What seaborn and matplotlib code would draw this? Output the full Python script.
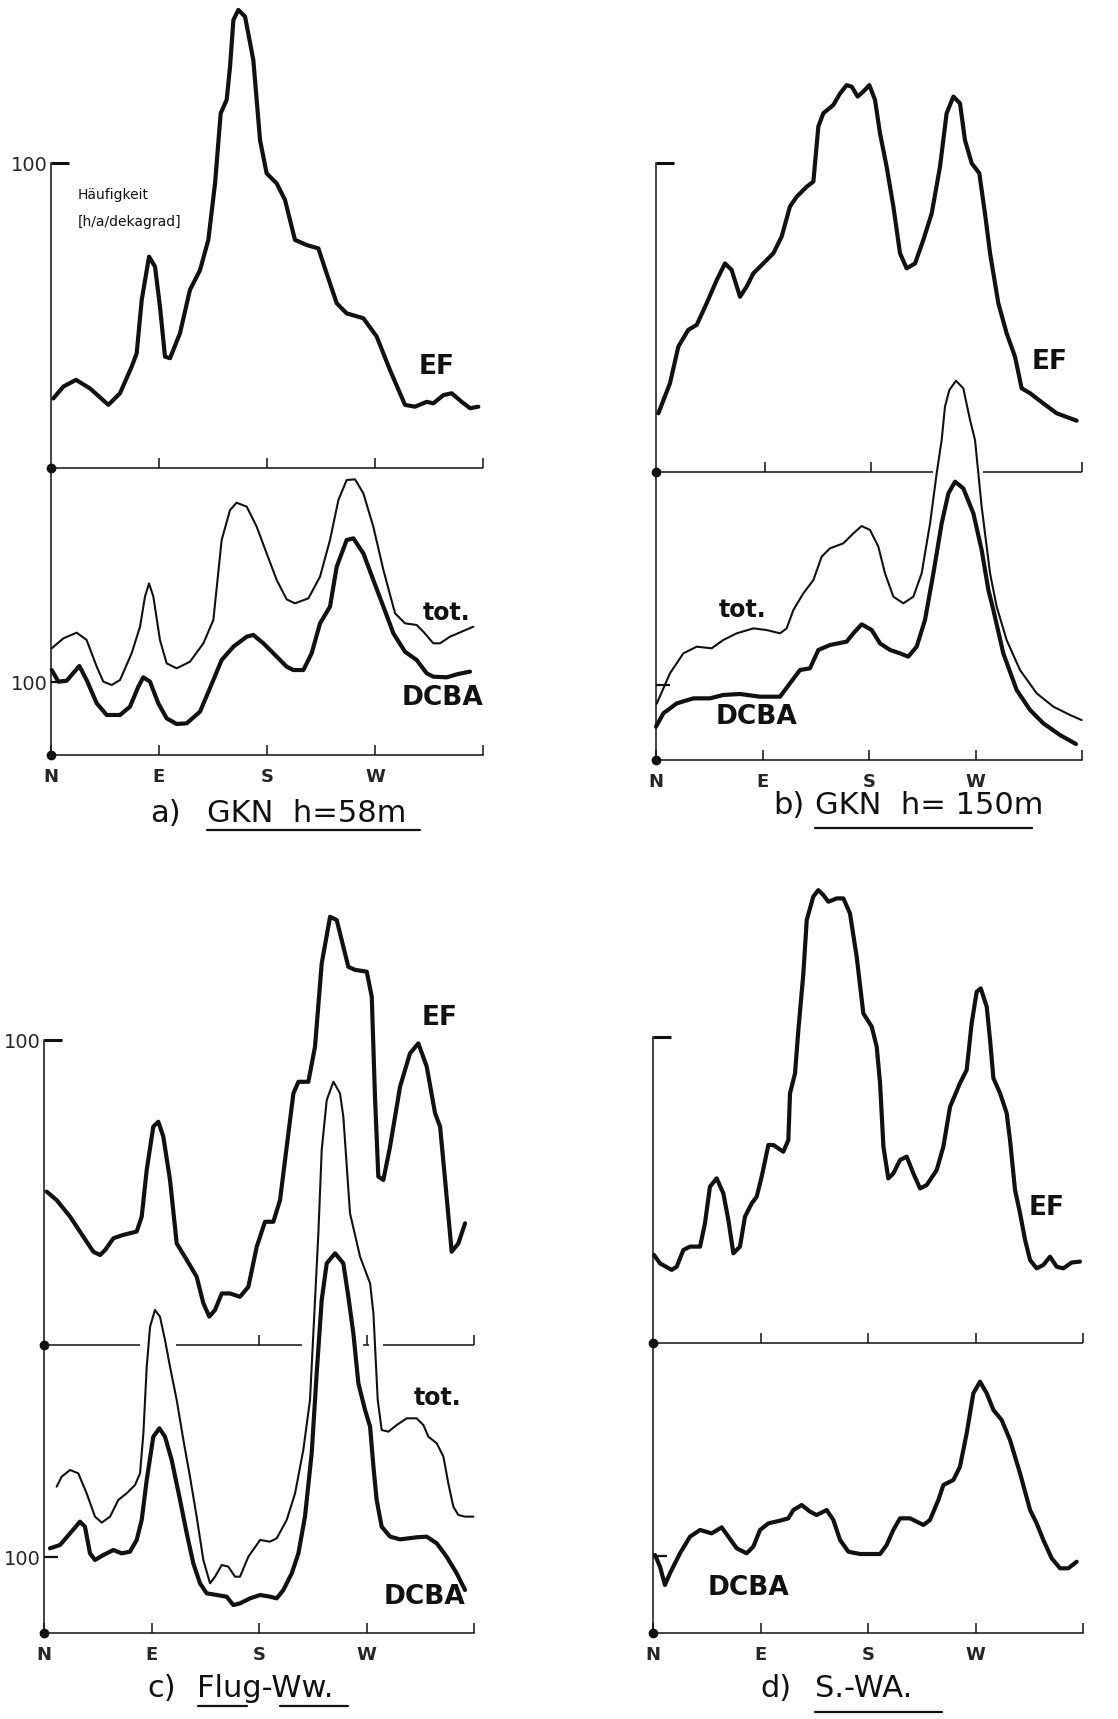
import matplotlib
matplotlib.use("Agg")
import matplotlib.pyplot as plt
from matplotlib.lines import Line2D
import seaborn as sns

# ---------------------------------------------------------------------------
# Wind-direction frequency distributions (direction in degrees: N=0, E=90,
# S=180, W=270).  Upper curves (EF) in h/a per dekagrad, lower curves
# (tot. and DCBA) on the lower scale of each panel.
# ---------------------------------------------------------------------------

# a) GKN h=58m
a_ef_deg = [1.9, 10.3, 20.8, 32.5, 47.8, 57.5, 67.2, 71.4, 75.6, 81.7, 86.7, 90.8, 95.0, 99.2,
            107.5, 115.8, 124.2, 131.1, 136.7, 141.4, 146.4, 149.2, 152.0, 156.1, 161.7, 168.6,
            174.2, 179.7, 188.1, 195.0, 203.3, 213.1, 222.8, 229.7, 238.1, 246.4, 260.3, 271.4,
            282.5, 295.0, 303.3, 313.1, 318.6, 327.0, 333.9, 342.2, 349.2, 356.1]
a_ef_val = [22.8, 26.7, 28.9, 26.1, 20.7, 24.5, 33.2, 37.6, 55.1, 69.3, 66.0, 52.9, 36.5, 36.0,
            44.2, 58.4, 64.9, 74.8, 93.3, 116.3, 120.7, 131.6, 146.9, 150.2, 148.0, 133.8,
            107.5, 96.6, 93.3, 87.9, 74.8, 73.1, 72.0, 63.8, 54.0, 50.7, 49.1, 43.1,
            32.1, 20.7, 20.1, 21.7, 21.2, 23.9, 24.5, 21.7, 19.6, 20.1]

a_tot_deg = [0.6, 10.3, 21.4, 29.7, 38.1, 43.6, 50.6, 57.5, 67.2, 74.2, 78.3, 81.7, 85.3, 90.8,
             96.4, 104.7, 115.8, 127.0, 135.3, 142.2, 149.2, 154.7, 163.1, 171.4, 179.7, 188.1,
             196.4, 203.3, 214.5, 224.2, 232.5, 239.5, 246.4, 253.4, 260.3, 268.6, 277.0, 286.7,
             295.0, 304.7, 310.3, 318.6, 324.2, 332.5, 342.2, 352.0]
a_tot_val = [146.1, 159.8, 167.6, 157.5, 121.0, 100.5, 95.9, 102.7, 139.3, 175.8, 216.9, 235.1,
             216.9, 157.5, 125.6, 118.7, 127.8, 153.0, 184.9, 294.5, 335.6, 345.6, 340.2, 312.8,
             276.2, 239.7, 213.2, 207.8, 214.6, 244.3, 294.5, 349.3, 376.7, 377.6, 358.4, 312.8,
             253.4, 194.1, 180.4, 178.1, 168.9, 153.0, 153.0, 162.1, 168.9, 175.8]

a_dcba_deg = [0.6, 6.1, 13.1, 23.6, 29.7, 38.1, 46.4, 57.5, 65.8, 72.8, 76.9, 82.5, 89.4, 96.4,
              104.7, 113.1, 124.2, 135.3, 142.2, 152.0, 163.1, 168.6, 177.0, 188.1, 196.4, 202.0,
              210.3, 217.2, 224.2, 232.5, 238.1, 246.4, 252.0, 260.3, 268.6, 277.0, 285.3, 295.0,
              304.7, 313.1, 318.6, 329.7, 339.4, 349.2]
a_dcba_val = [116.4, 100.5, 101.8, 121.9, 102.7, 70.8, 54.8, 54.8, 66.2, 93.6, 106.4, 100.5,
              70.8, 50.2, 42.5, 43.4, 59.4, 102.7, 130.1, 148.4, 162.1, 164.4, 153.0, 134.7,
              121.0, 116.4, 116.4, 139.3, 180.4, 203.2, 258.0, 294.5, 296.8, 276.2, 239.7, 203.2,
              166.7, 141.5, 130.1, 111.9, 107.3, 106.4, 111.0, 114.2]

# b) GKN h=150m
b_ef_deg = [2.0, 11.8, 18.9, 27.3, 34.4, 42.8, 51.3, 58.3, 63.9, 71.0, 76.6, 82.3, 90.7, 99.2,
            106.2, 113.2, 118.9, 127.3, 133.0, 137.2, 141.4, 149.9, 155.5, 161.1, 165.4, 170.4,
            175.2, 180.3, 185.1, 189.3, 194.9, 200.6, 206.2, 211.8, 218.9, 225.9, 233.0, 240.0,
            245.6, 251.3, 256.9, 261.1, 266.8, 273.2, 278.0, 282.3, 289.3, 296.3, 303.4, 309.0,
            316.1, 327.3, 338.6, 355.5]
b_ef_val = [19.0, 28.7, 40.6, 46.0, 47.6, 54.6, 62.1, 67.5, 65.4, 56.7, 60.0, 64.3, 67.5, 70.8,
            76.2, 85.9, 89.1, 92.3, 94.0, 111.8, 116.1, 118.8, 122.5, 125.2, 124.7, 121.5,
            123.1, 125.2, 120.4, 109.6, 98.8, 85.9, 70.8, 65.9, 67.5, 75.1, 83.7, 98.8,
            116.1, 121.5, 119.3, 107.4, 99.9, 96.7, 83.7, 70.8, 54.6, 44.9, 37.3, 27.1,
            25.5, 22.2, 19.0, 16.6]

b_tot_deg = [0.6, 11.8, 23.1, 34.4, 47.0, 56.9, 68.2, 82.3, 93.5, 104.8, 110.4, 116.1, 124.5,
             133.0, 140.0, 147.0, 158.3, 166.8, 173.8, 180.9, 187.9, 193.5, 200.6, 209.0, 217.5,
             224.5, 231.6, 237.2, 241.4, 244.2, 247.9, 253.5, 259.7, 265.4, 269.6, 272.4, 275.2,
             282.3, 287.9, 296.3, 307.6, 321.7, 335.8, 349.9, 359.7]
b_tot_val = [75.0, 115.6, 142.2, 151.1, 148.9, 160.0, 168.9, 175.5, 173.3, 168.9, 175.5, 200.0,
             222.2, 240.0, 271.1, 282.2, 288.9, 302.2, 312.0, 306.6, 284.4, 248.9, 217.8, 208.9,
             217.8, 248.9, 315.5, 382.2, 426.6, 471.1, 493.3, 505.7, 495.5, 453.3, 426.6, 382.2,
             337.7, 248.9, 204.4, 160.0, 120.0, 88.9, 71.1, 60.0, 53.3]

b_dcba_deg = [0.0, 6.2, 17.5, 31.6, 45.6, 56.9, 71.0, 87.9, 104.8, 113.2, 121.7, 130.1, 137.2,
              147.0, 161.1, 166.8, 173.8, 182.3, 189.3, 197.8, 206.2, 213.2, 220.3, 227.3, 234.4,
              241.4, 247.1, 252.7, 259.7, 268.2, 275.2, 280.9, 285.1, 293.5, 304.8, 316.1, 327.3,
              341.4, 354.9]
b_dcba_val = [44.4, 62.2, 75.5, 82.2, 82.2, 86.7, 88.0, 84.4, 84.4, 102.2, 120.0, 122.2, 146.7,
              153.3, 157.8, 168.9, 180.9, 173.3, 155.5, 146.7, 142.2, 137.8, 151.1, 186.6, 248.9,
              315.5, 355.5, 371.1, 362.2, 328.9, 280.0, 226.6, 200.0, 142.2, 93.3, 66.7, 48.9,
              33.3, 21.3]

# c) Flug-Ww.
c_ef_deg = [2.2, 10.6, 21.8, 32.9, 41.3, 46.9, 51.1, 58.1, 66.4, 77.6, 81.8, 86.0, 91.5, 95.7,
            99.9, 105.5, 111.1, 119.5, 127.8, 133.4, 138.4, 143.2, 148.8, 155.7, 164.1, 171.1,
            178.1, 185.0, 192.0, 197.6, 203.2, 208.8, 213.0, 221.3, 226.9, 232.5, 239.5, 245.1,
            250.6, 254.8, 260.4, 270.2, 274.4, 277.1, 279.9, 284.1, 289.7, 298.1, 306.4, 313.4,
            320.4, 327.4, 331.6, 335.8, 341.3, 346.9, 352.5]
c_ef_val = [50.3, 47.5, 42.1, 35.5, 30.6, 29.5, 31.1, 35.0, 36.1, 37.2, 42.1, 57.4, 71.6, 73.2,
            68.3, 54.1, 33.3, 27.9, 22.4, 13.7, 9.3, 11.5, 16.9, 16.9, 15.8, 19.1,
            32.2, 40.4, 40.4, 47.5, 65.0, 82.5, 86.3, 86.3, 97.8, 125.1, 140.4, 139.3,
            130.6, 124.0, 123.0, 122.4, 114.2, 81.4, 55.2, 54.1, 65.0, 84.7, 95.6, 98.9,
            91.3, 76.0, 71.6, 54.1, 30.6, 33.3, 39.9]

c_tot_deg = [10.6, 14.8, 21.8, 28.7, 35.7, 42.7, 48.3, 55.3, 62.2, 69.2, 76.2, 80.4, 83.2, 86.0,
             88.8, 92.9, 97.1, 101.3, 105.5, 111.1, 116.7, 122.2, 127.8, 133.4, 139.0, 143.2,
             148.8, 154.3, 159.9, 164.1, 171.1, 180.9, 189.2, 194.8, 203.2, 210.2, 217.1, 222.7,
             226.9, 229.7, 232.5, 236.7, 242.3, 247.8, 250.6, 256.2, 264.6, 273.0, 275.8, 277.7,
             279.4, 282.7, 288.3, 295.3, 303.7, 312.0, 317.6, 321.8, 328.8, 334.4, 338.5, 342.7,
             346.9, 352.5, 359.5]
c_tot_val = [192.5, 205.7, 214.5, 210.1, 183.8, 153.1, 145.2, 153.1, 175.0, 183.8, 194.7, 210.1,
             262.7, 350.4, 403.1, 425.0, 416.2, 385.5, 350.4, 306.6, 253.9, 205.7, 153.1, 96.1,
             65.4, 74.1, 89.5, 87.3, 74.1, 74.1, 100.4, 122.4, 120.2, 124.6, 148.7, 183.8,
             240.8, 306.6, 438.2, 525.9, 635.5, 701.3, 725.4, 710.1, 679.4, 552.2, 495.2, 460.1,
             420.6, 360.1, 306.6, 267.1, 264.9, 273.7, 282.5, 282.5, 273.7, 258.3, 249.6, 232.0,
             196.9, 166.2, 155.3, 153.1, 153.1]

c_dcba_deg = [5.0, 13.4, 21.8, 30.1, 34.3, 38.5, 42.7, 49.7, 58.1, 65.0, 72.0, 77.6, 81.8, 86.0,
              91.5, 96.6, 101.3, 106.9, 113.9, 119.5, 125.0, 130.6, 136.2, 144.6, 152.9, 158.5,
              164.1, 172.5, 180.9, 189.2, 194.8, 200.4, 207.4, 213.0, 218.5, 224.1, 228.3, 232.5,
              236.7, 243.7, 250.6, 254.8, 259.0, 263.2, 268.8, 273.0, 275.8, 278.5, 282.7, 289.7,
              298.1, 312.0, 320.4, 328.8, 337.1, 345.5, 352.5]
c_dcba_val = [111.4, 115.8, 131.1, 146.5, 139.9, 104.8, 96.1, 102.6, 109.2, 104.8, 107.0, 122.4,
              148.7, 201.3, 258.3, 269.3, 258.3, 227.6, 175.0, 131.1, 91.7, 65.4, 52.2, 50.0,
              47.8, 36.8, 39.0, 45.6, 50.0, 47.8, 45.6, 56.6, 78.5, 104.8, 153.1, 236.4, 341.7,
              438.2, 486.4, 499.6, 486.4, 442.5, 394.3, 328.5, 293.4, 271.5, 218.9, 175.0, 139.9,
              126.8, 123.2, 125.9, 126.8, 118.0, 100.4, 78.5, 56.6]

# d) S.-WA.
d_ef_deg = [0.8, 5.9, 15.6, 19.8, 25.4, 31.0, 39.4, 43.5, 47.7, 53.3, 58.9, 63.1, 67.3, 72.8,
            77.0, 82.6, 86.8, 91.0, 96.6, 100.8, 109.1, 113.3, 114.7, 118.9, 121.7, 125.9, 128.7,
            134.2, 138.4, 142.6, 146.8, 153.8, 159.4, 164.9, 170.5, 176.1, 183.1, 187.3, 190.1,
            192.9, 197.0, 201.2, 206.8, 212.4, 218.0, 223.6, 229.1, 237.5, 243.1, 248.7, 257.0,
            262.6, 266.8, 271.0, 274.4, 279.4, 282.2, 285.0, 290.6, 296.1, 298.9, 303.1, 307.3,
            311.5, 315.7, 321.2, 326.8, 332.4, 338.0, 343.6, 350.5, 357.5]
d_ef_val = [28.8, 26.0, 23.9, 24.9, 30.4, 31.5, 31.5, 39.1, 51.1, 53.8, 48.9, 40.2, 29.3, 31.5,
            41.3, 45.6, 47.8, 54.4, 64.7, 64.7, 62.5, 66.3, 81.6, 88.1, 102.3, 120.8, 138.2,
            145.9, 148.0, 146.4, 144.2, 145.3, 145.3, 140.4, 126.3, 107.7, 103.4, 96.8, 84.9,
            64.2, 53.8, 55.4, 59.8, 60.9, 55.4, 50.5, 51.6, 56.5, 64.2, 77.2, 84.9,
            89.2, 104.5, 114.8, 115.9, 109.9, 99.0, 86.5, 81.6, 75.1, 66.3, 50.0, 42.4,
            33.7, 27.1, 24.4, 25.5, 28.2, 24.9, 24.4, 26.3, 26.6]

d_dcba_deg = [1.7, 5.9, 10.0, 14.2, 22.6, 31.0, 39.4, 49.1, 57.5, 63.1, 70.1, 78.4, 84.0, 89.6,
              96.6, 106.3, 113.3, 117.5, 124.5, 131.5, 137.0, 145.4, 151.0, 156.6, 163.6, 173.3,
              190.1, 195.6, 201.2, 206.8, 215.2, 226.4, 231.9, 238.9, 243.1, 251.5, 257.0, 262.6,
              268.2, 273.8, 279.4, 285.0, 291.9, 298.9, 307.3, 315.7, 321.2, 326.8, 333.8, 340.8,
              347.7, 354.7]
d_dcba_val = [101.3, 86.1, 62.3, 77.5, 103.5, 125.1, 133.8, 129.4, 137.2, 125.1, 110.0, 103.5,
              112.1, 133.8, 142.4, 145.9, 148.9, 159.7, 166.2, 157.6, 153.2, 159.7, 146.8, 120.8,
              105.6, 102.6, 102.6, 114.3, 133.8, 148.9, 148.9, 140.3, 146.8, 172.7, 192.2, 198.7,
              216.0, 259.3, 311.3, 326.4, 311.3, 289.6, 276.6, 250.6, 207.4, 159.7, 142.4, 120.8,
              97.0, 84.0, 84.0, 92.6]

compass_ticks = [0, 90, 180, 270, 360]
compass_labels = ["N", "E", "S", "W", ""]

# ---------------------------------------------------------------------------
# Page layout (pixel positions on the 1118 x 1719 sheet)
# ---------------------------------------------------------------------------
W, H = 1118, 1719
INK = "#111111"

sns.set_style("white")
plt.rcParams["font.family"] = ["DejaVu Sans"]

fig = plt.figure(figsize=(W / 100, H / 100), dpi=100)
fig.patch.set_facecolor("white")


def fx(px):
    return px / W


def fy(py):
    return 1 - py / H


panels = [
    dict(x0=51, x1=483, top=163, mid=468, bot=755, low=682,
         upper=[(a_ef_deg, a_ef_val)], lower=[(a_tot_deg, a_tot_val, "thin"),
                                              (a_dcba_deg, a_dcba_val, "thick")],
         mid_segments=[(0, 360)], mid_ticks=[90, 180, 270, 360], hundred=True),
    dict(x0=656, x1=1082, top=163, mid=472, bot=760, low=685,
         upper=[(b_ef_deg, b_ef_val)], lower=[(b_tot_deg, b_tot_val, "thin"),
                                              (b_dcba_deg, b_dcba_val, "thick")],
         mid_segments=[(0, 234.4), (276.6, 360)], mid_ticks=[92, 182, 360], hundred=False),
    dict(x0=44, x1=474, top=1040, mid=1345, bot=1633, low=1557,
         upper=[(c_ef_deg, c_ef_val)], lower=[(c_tot_deg, c_tot_val, "thin"),
                                              (c_dcba_deg, c_dcba_val, "thick")],
         mid_segments=[(0, 80.4), (110.2, 215.7), (267.4, 272.4), (284.1, 360)],
         mid_ticks=[180, 270, 360], hundred=True),
    dict(x0=653, x1=1083, top=1037, mid=1343, bot=1633, low=1556,
         upper=[(d_ef_deg, d_ef_val)], lower=[(d_dcba_deg, d_dcba_val, "thick")],
         mid_segments=[(0, 360)], mid_ticks=[90, 180, 270, 360], hundred=False),
]

LW = {"thick": 3.0, "thin": 1.5}


def trace(ax, deg, val, width):
    sns.lineplot(x=deg, y=val, ax=ax, color=INK, linewidth=LW[width],
                 sort=False, estimator=None, legend=False)
    ln = ax.lines[-1]
    ln.set_clip_on(False)
    ln.set_solid_joinstyle("round")
    ln.set_solid_capstyle("round")


for p in panels:
    w = (p["x1"] - p["x0"]) / W
    ax_t = fig.add_axes([fx(p["x0"]), fy(p["mid"]), w, (p["mid"] - p["top"]) / H])
    ax_b = fig.add_axes([fx(p["x0"]), fy(p["bot"]), w, (p["bot"] - p["mid"]) / H])
    lower_top = (p["bot"] - p["mid"]) * 100 / (p["bot"] - p["low"])

    for ax in (ax_t, ax_b):
        ax.set_facecolor("none")
        ax.set_xlim(0, 360)
        for s in ("top", "right"):
            ax.spines[s].set_visible(False)
        ax.spines["left"].set_color(INK)
        ax.spines["left"].set_linewidth(1.1)

    # upper section: EF
    ax_t.set_ylim(0, 100)
    ax_t.spines["bottom"].set_visible(False)
    ax_t.hlines([0] * len(p["mid_segments"]), [s[0] for s in p["mid_segments"]],
                [s[1] for s in p["mid_segments"]], color=INK, lw=1.1, clip_on=False)
    ax_t.set_xticks(p["mid_ticks"])
    ax_t.set_xticklabels([])
    ax_t.tick_params(axis="x", direction="in", length=7, width=1.1, color=INK, bottom=True)
    ax_t.set_yticks([100])
    ax_t.set_yticklabels(["100" if p["hundred"] else ""])
    ax_t.tick_params(axis="y", direction="in", length=13, width=2.2, color=INK, left=True,
                     labelsize=14, pad=2)
    ax_t.plot([0], [0], "o", color=INK, ms=6, clip_on=False)
    for deg, val in p["upper"]:
        trace(ax_t, deg, val, "thick")

    # lower section: tot. and DCBA
    ax_b.set_ylim(0, lower_top)
    ax_b.spines["bottom"].set_color(INK)
    ax_b.spines["bottom"].set_linewidth(1.1)
    ax_b.set_xticks(compass_ticks)
    ax_b.set_xticklabels(compass_labels, fontsize=13, fontweight="bold")
    ax_b.tick_params(axis="x", direction="in", length=7, width=1.1, color=INK, bottom=True,
                     pad=9)
    ax_b.set_yticks([100])
    ax_b.set_yticklabels(["100" if p["hundred"] else ""])
    ax_b.tick_params(axis="y", direction="in", length=10, width=1.6, color=INK, left=True,
                     labelsize=14, pad=2)
    ax_b.plot([0], [0], "o", color=INK, ms=6, clip_on=False)
    for deg, val, width in p["lower"]:
        trace(ax_b, deg, val, width)


def label(x, y, s, size=19, weight="bold", ha="center"):
    fig.text(fx(x), fy(y), s, fontsize=size, fontweight=weight, ha=ha, va="center",
             color=INK)


def underline(xa, xb, y):
    fig.add_artist(Line2D([fx(xa), fx(xb)], [fy(y), fy(y)], color=INK, lw=1.6))


# axis caption
label(78, 195, "Häufigkeit", size=10, weight="normal", ha="left")
label(78, 222, "[h/a/dekagrad]", size=10, weight="normal", ha="left")

# curve names
label(437, 367, "EF")
label(447, 613, "tot.", size=17)
label(443, 698, "DCBA")
label(1050, 362, "EF")
label(743, 610, "tot.", size=17)
label(757, 717, "DCBA")
label(440, 1018, "EF")
label(438, 1398, "tot.", size=17)
label(425, 1597, "DCBA")
label(1047, 1208, "EF")
label(748, 1588, "DCBA")

# panel titles
label(165, 813, "a)", size=22, weight="normal")
label(207, 813, "GKN  h=58m", size=22, weight="normal", ha="left")
underline(207, 420, 830)
label(789, 805, "b)", size=22, weight="normal")
label(815, 805, "GKN  h= 150m", size=22, weight="normal", ha="left")
underline(815, 1032, 828)
label(162, 1688, "c)", size=22, weight="normal")
label(197, 1688, "Flug-Ww.", size=22, weight="normal", ha="left")
underline(198, 247, 1706)
underline(280, 348, 1706)
label(776, 1688, "d)", size=22, weight="normal")
label(815, 1688, "S.-WA.", size=22, weight="normal", ha="left")
underline(815, 942, 1712)

fig.savefig("out.png", dpi=100, facecolor="white")
